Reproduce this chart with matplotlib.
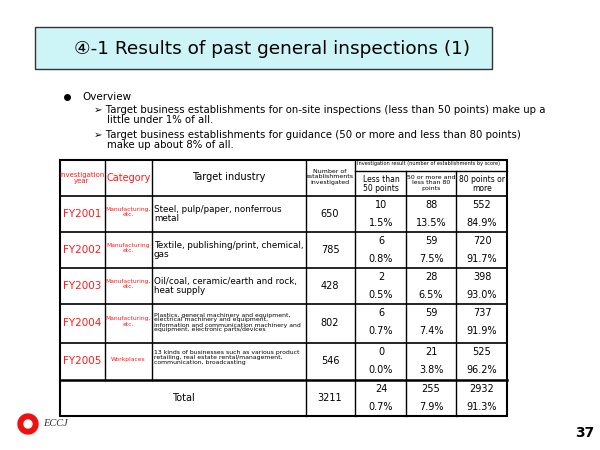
import matplotlib.pyplot as plt
from matplotlib.patches import Rectangle, Circle

# data
years = ['FY2001', 'FY2002', 'FY2003', 'FY2004', 'FY2005']
categories = ['Manufacturing,\netc.', 'Manufacturing\netc.', 'Manufacturing,\netc.',
              'Manufacturing,\netc.', 'Workplaces']
industries = ['Steel, pulp/paper, nonferrous\nmetal',
              'Textile, publishing/print, chemical,\ngas',
              'Oil/coal, ceramic/earth and rock,\nheat supply',
              'Plastics, general machinery and equipment,\nelectrical machinery and equipment,\n'
              'information and communication machinery and\nequipment, electronic parts/devices',
              '13 kinds of businesses such as various product\nretailing, real estate rental/management,\n'
              'communication, broadcasting']
investigated = [650, 785, 428, 802, 546]
less50 = [10, 6, 2, 6, 0]
mid = [88, 59, 28, 59, 21]
over80 = [552, 720, 398, 737, 525]
less50_pct = ['1.5%', '0.8%', '0.5%', '0.7%', '0.0%']
mid_pct = ['13.5%', '7.5%', '6.5%', '7.4%', '3.8%']
over80_pct = ['84.9%', '91.7%', '93.0%', '91.9%', '96.2%']
total = [3211, 24, 255, 2932]
total_pct = ['0.7%', '7.9%', '91.3%']

fig = plt.figure(figsize=(6, 4.5), dpi=100)
ax = fig.add_axes([0, 0, 1, 1])
ax.set_xlim(0, 600)
ax.set_ylim(450, 0)
ax.axis('off')
red = '#ff1a1a'

# title box
ax.add_patch(Rectangle((35, 27), 457, 42, facecolor='#cdf5f7', edgecolor='#333333', lw=1))
ax.text(272, 49, '\u2463-1 Results of past general inspections (1)', fontsize=13.3,
        ha='center', va='center', family='DejaVu Sans')

# bullets
ax.plot(67, 97, 'o', color='black', ms=4)
ax.text(82, 97, 'Overview', fontsize=7.5, va='center')
ax.text(94, 105, '\u27a2 Target business establishments for on-site inspections (less than 50 points) make up a\n'
        '    little under 1% of all.', fontsize=7.3, va='top', linespacing=0.95)
ax.text(94, 130, '\u27a2 Target business establishments for guidance (50 or more and less than 80 points)\n'
        '    make up about 8% of all.', fontsize=7.3, va='top', linespacing=0.95)

# table lines
xs = [60, 105, 152, 306, 355, 406, 456, 507]
ys = [160, 196, 232, 268, 304, 343, 380, 416]
ax.add_patch(Rectangle((60, 160), 447, 256, fill=False, edgecolor='black', lw=1.5))
for y in ys[1:-1]:
    ax.plot([60, 507], [y, y], color='black', lw=1.2 if y != 380 else 1.8)
for x in xs[1:-1]:
    top = 171 if x in (406, 456) else 160
    bottom = 380 if x in (105, 152) else 416
    ax.plot([x, x], [top, bottom], color='black', lw=1)
ax.plot([355, 507], [171, 171], color='black', lw=1)

# header
ax.text(82, 178, 'Investigation\nyear', fontsize=5, color=red, ha='center', va='center', linespacing=1.1)
ax.text(129, 178, 'Category', fontsize=7, color=red, ha='center', va='center')
ax.text(229, 177, 'Target industry', fontsize=7, ha='center', va='center')
ax.text(330, 177, 'Number of\nestablishments\ninvestigated', fontsize=4.5, ha='center', va='center', linespacing=1.05)
ax.text(357, 164, 'Investigation result (number of establishments by score)', fontsize=3.6, va='center')
ax.text(381, 184, 'Less than\n50 points', fontsize=5.5, ha='center', va='center', linespacing=1.1)
ax.text(431, 183, '50 or more and\nless than 80\npoints', fontsize=4.5, ha='center', va='center', linespacing=1.05)
ax.text(482, 184, '80 points or\nmore', fontsize=5.5, ha='center', va='center', linespacing=1.1)

# body rows
for i in range(len(years)):
    top, bot = ys[i + 1], ys[i + 2]
    mid_y = (top + bot) / 2
    ax.text(82, mid_y, years[i], fontsize=7.5, color=red, ha='center', va='center')
    ax.text(128, mid_y - 2, categories[i], fontsize=4.3, color=red, ha='center', va='center', linespacing=1.1)
    small = i >= 3
    ax.text(154, mid_y - (1 if small else 0) - (3 if i == 4 else 0), industries[i],
            fontsize=4.4 if small else 6.3, va='center', linespacing=1.0 if small else 1.1)
    ax.text(330, mid_y, str(investigated[i]), fontsize=7, ha='center', va='center')
    for x, v, p in ((381, less50[i], less50_pct[i]), (431, mid[i], mid_pct[i]),
                    (482, over80[i], over80_pct[i])):
        ax.text(x, top + 9, str(v), fontsize=7, ha='center', va='center')
        ax.text(x, top + 27, p, fontsize=7, ha='center', va='center')

# total row
ax.text(183, 398, 'Total', fontsize=7, ha='center', va='center')
ax.text(330, 398, str(total[0]), fontsize=7, ha='center', va='center')
for x, v, p in zip((381, 431, 482), total[1:], total_pct):
    ax.text(x, 389, str(v), fontsize=7, ha='center', va='center')
    ax.text(x, 407, p, fontsize=7, ha='center', va='center')

# footer
ax.add_patch(Circle((28, 424), 10, color='#ee1111'))
ax.add_patch(Circle((28, 424), 4, color='white'))
ax.text(43, 424, 'ECCJ', fontsize=7.5, style='italic', family='Liberation Serif', va='center', color='#333333')
ax.text(585, 433, '37', fontsize=10, weight='bold', ha='center', va='center')

fig.savefig('out.png', dpi=100)
